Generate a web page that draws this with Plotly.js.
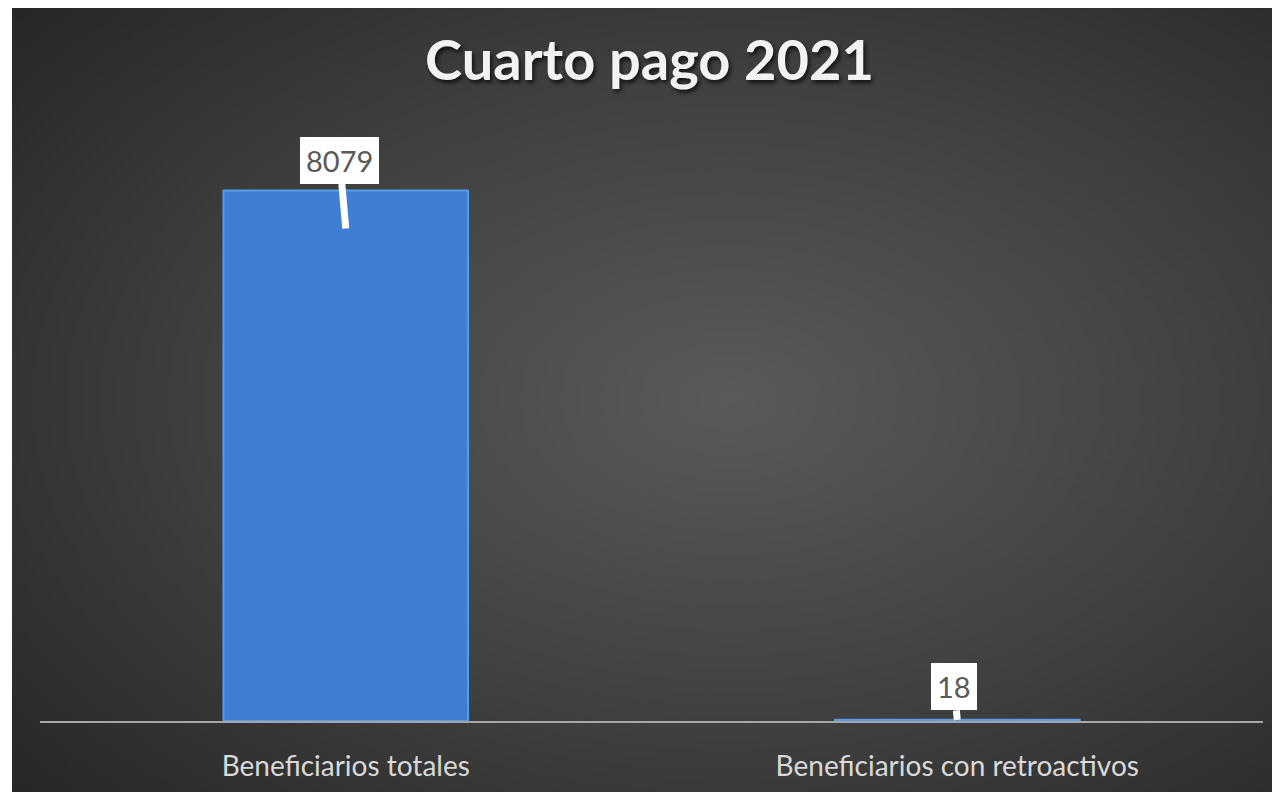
<!DOCTYPE html>
<html><head><meta charset="utf-8">
<script src="https://cdn.plot.ly/plotly-3.0.1.min.js"></script>
<style>
html,body{margin:0;padding:0;background:#ffffff;width:1272px;height:792px;overflow:hidden;}
#chart{position:absolute;left:12px;top:8px;width:1260px;height:784px;
background:radial-gradient(ellipse 75% 75% at 57% 50%, #5a5a5a 0%, #404040 55%, #272727 100%);}
</style></head>
<body><div id="chart"></div>
<script>
const categories = ["Beneficiarios totales", "Beneficiarios con retroactivos"];
const values = [8079, 18];
const chartTitle = "Cuarto pago 2021";

const trace = {
  type: "bar",
  x: categories,
  y: values,
  marker: {color: "#3f7ed3", line: {color: "#5a9be6", width: 2}},
  hoverinfo: "x+y"
};

const labelShift = [-38, 0];
const labelAx = [-6, -3];
const labelAy = [-68, -33];
const annotations = categories.map((c, i) => ({
  x: c, y: values[i], xref: "x", yref: "y",
  text: String(values[i]),
  showarrow: true, arrowhead: 0, arrowwidth: 7, arrowcolor: "#ffffff",
  ax: labelAx[i], ay: labelAy[i], yshift: labelShift[i],
  bgcolor: "#ffffff", borderpad: 6, borderwidth: 0,
  font: {family: "Lato, 'Open Sans', sans-serif", size: 29, color: "#595959"}
}));

const layout = {
  width: 1260, height: 784,
  margin: {l: 28, r: 9, t: 122, b: 71},
  paper_bgcolor: "rgba(0,0,0,0)",
  plot_bgcolor: "rgba(0,0,0,0)",
  title: {
    text: "<b>" + chartTitle + "</b>",
    x: 0.506, xanchor: "center", y: 0.933, yanchor: "middle",
    font: {family: "Lato, 'Open Sans', sans-serif", size: 56, color: "#f2f2f2",
           shadow: "2px 3px 4px rgba(0,0,0,0.7)"}
  },
  bargap: 0.6,
  xaxis: {
    showline: true, linecolor: "#a6a6a6", linewidth: 2,
    showgrid: false, zeroline: false,
    ticks: "", ticklabelstandoff: 19,
    tickfont: {family: "Lato, 'Open Sans', sans-serif", size: 28, color: "#d9d9d9"}
  },
  yaxis: {
    range: [0, 9000], visible: false, showgrid: false, zeroline: false
  },
  annotations: annotations,
  showlegend: false
};

Plotly.newPlot("chart", [trace], layout, {displayModeBar: false, staticPlot: true});
</script></body></html>
